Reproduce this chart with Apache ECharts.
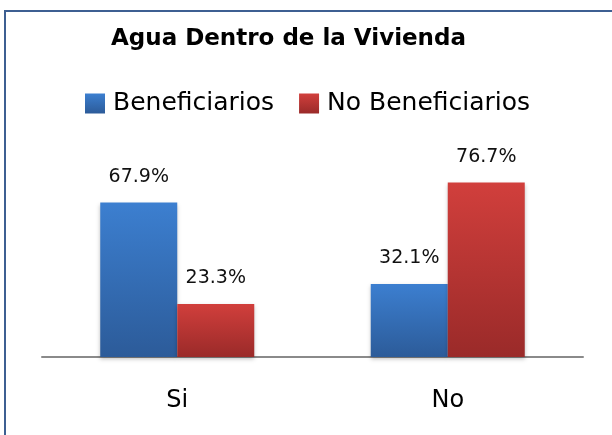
<!DOCTYPE html>
<html>
<head>
<meta charset="utf-8">
<script src="https://cdn.jsdelivr.net/npm/echarts@6/dist/echarts.min.js"></script>
<style>
  html, body { margin: 0; padding: 0; background: #fff; }
  #container { width: 612px; height: 435px; }
</style>
</head>
<body>
<div id="container"></div>
<script>
const categories = ["Si", "No"];
const beneficiarios = [67.9, 32.1];
const noBeneficiarios = [23.3, 76.7];

const dom = document.getElementById("container");
const myChart = echarts.init(dom, null, { renderer: "canvas" });

const font = "DejaVu Sans";

function grad(top, bottom) {
  return new echarts.graphic.LinearGradient(0, 0, 0, 1, [
    { offset: 0, color: top },
    { offset: 1, color: bottom },
  ]);
}

function labelOpt() {
  return {
    show: true,
    position: "top",
    distance: 16,
    fontFamily: font,
    fontSize: 19,
    color: "#111",
    formatter: (p) => p.value.toFixed(1) + "%",
  };
}

const option = {
  animation: false,
  graphic: [
    {
      type: "rect",
      shape: { x: 5, y: 11, width: 640, height: 460 },
      style: { fill: "none", stroke: "#3d5f92", lineWidth: 2 },
      silent: true,
    },
  ],
  title: {
    text: "Agua Dentro de la Vivienda",
    left: 106,
    top: 23,
    textStyle: { fontFamily: font, fontSize: 23, fontWeight: "bold", color: "#000" },
  },
  legend: {
    left: 85,
    top: 91,
    padding: 0,
    itemWidth: 20,
    itemHeight: 20,
    itemGap: 25,
    icon: "rect",
    textStyle: { fontFamily: font, fontSize: 25, color: "#000", padding: [0, 0, 0, 3] },
    data: ["Beneficiarios", "No Beneficiarios"],
  },
  grid: { left: 42, right: 29, top: 175, bottom: 78 },
  xAxis: {
    type: "category",
    data: categories,
    axisLine: { lineStyle: { color: "#8a8a8a", width: 2 } },
    axisTick: { show: false },
    axisLabel: { fontFamily: font, fontSize: 24, color: "#000", margin: 32 },
  },
  yAxis: {
    type: "value",
    min: 0,
    max: 80,
    show: false,
    splitLine: { show: false },
  },
  series: [
    {
      name: "Beneficiarios",
      type: "bar",
      data: beneficiarios,
      barWidth: 77,
      barGap: "0%",
      itemStyle: {
        color: grad("#3c7fd0", "#2c5b99"),
        shadowColor: "rgba(0,0,0,0.25)",
        shadowBlur: 4,
        shadowOffsetY: 2,
      },
      label: labelOpt(),
    },
    {
      name: "No Beneficiarios",
      type: "bar",
      data: noBeneficiarios,
      barWidth: 77,
      barGap: "0%",
      itemStyle: {
        color: grad("#d13f3c", "#9a2a29"),
        shadowColor: "rgba(0,0,0,0.25)",
        shadowBlur: 4,
        shadowOffsetY: 2,
      },
      label: labelOpt(),
    },
  ],
};

myChart.setOption(option);
window.addEventListener("resize", myChart.resize);
</script>
</body>
</html>
